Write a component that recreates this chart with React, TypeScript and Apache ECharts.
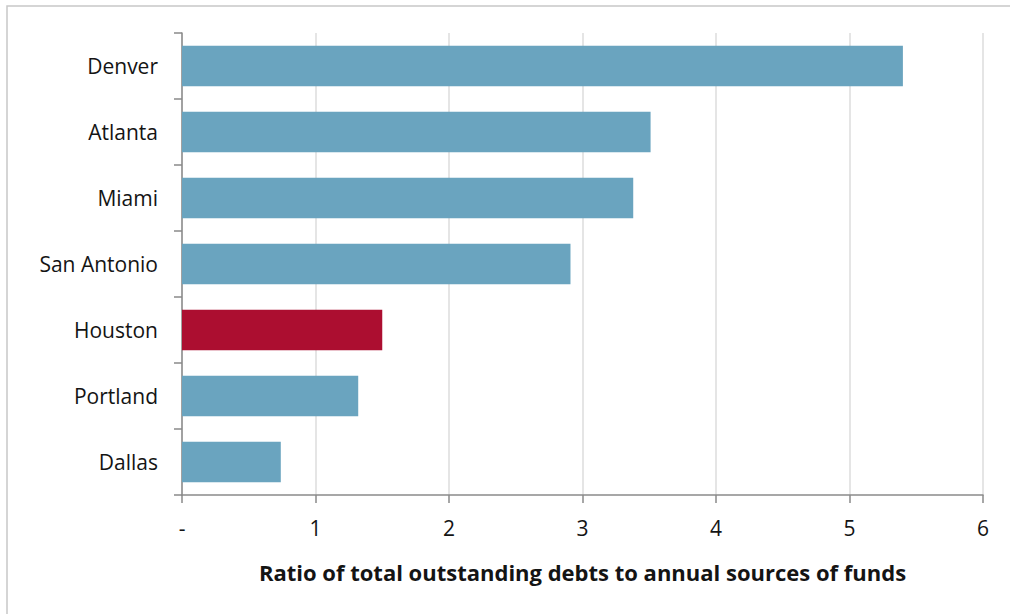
import React, { useEffect, useRef } from "react";
import * as echarts from "echarts";

const categories = ["Denver", "Atlanta", "Miami", "San Antonio", "Houston", "Portland", "Dallas"];
const values = [5.4, 3.51, 3.38, 2.91, 1.5, 1.32, 0.74];
const highlight = "Houston";
const xTicks = [0, 1, 2, 3, 4, 5, 6];
const axisTitle = "Ratio of total outstanding debts to annual sources of funds";

const BLUE = "#6aa4bf";
const RED = "#ac0e30";
const FONT = "'Open Sans', Lato, sans-serif";

export default function App() {
  const ref = useRef<HTMLDivElement>(null);
  useEffect(() => {
    document.body.style.margin = "0";
    const chart = echarts.init(ref.current!, null, { renderer: "svg" });
    chart.setOption({
      animation: false,
      backgroundColor: "#ffffff",
      graphic: [
        {
          type: "rect",
          shape: { x: 7, y: 6, width: 1040, height: 640 },
          style: { fill: "none", stroke: "#c8c8c8", lineWidth: 1.5 },
          silent: true,
        },
      ],
      grid: { left: 182, right: 27, top: 33, bottom: 119, containLabel: false },
      xAxis: {
        type: "value",
        min: xTicks[0],
        max: xTicks[xTicks.length - 1],
        interval: 1,
        name: axisTitle,
        nameLocation: "middle",
        nameGap: 66,
        nameTextStyle: { fontFamily: FONT, fontWeight: "bold", fontSize: 22, color: "#141414" },
        axisLine: { show: true, lineStyle: { color: "#8a8a8a", width: 1.5 } },
        axisTick: { show: true, length: 8, lineStyle: { color: "#8a8a8a", width: 1.5 } },
        axisLabel: {
          margin: 22,
          fontFamily: FONT,
          fontSize: 21,
          color: "#141414",
          formatter: (v: number) => (v === 0 ? "-" : String(v)),
        },
        splitLine: { show: true, lineStyle: { color: "#dcdcdc", width: 1.5 } },
      },
      yAxis: {
        type: "category",
        inverse: true,
        data: categories,
        axisLine: { show: true, lineStyle: { color: "#8a8a8a", width: 1.5 } },
        axisTick: { show: true, length: 8, lineStyle: { color: "#8a8a8a", width: 1.5 } },
        axisLabel: { margin: 24, fontFamily: FONT, fontSize: 21, color: "#141414" },
        splitLine: { show: false },
      },
      series: [
        {
          type: "bar",
          barCategoryGap: "39%",
          data: values.map((v, i) => ({
            value: v,
            itemStyle: { color: categories[i] === highlight ? RED : BLUE },
          })),
        },
      ],
    });
    return () => chart.dispose();
  }, []);
  return <div ref={ref} style={{ width: 1010, height: 614 }} />;
}
